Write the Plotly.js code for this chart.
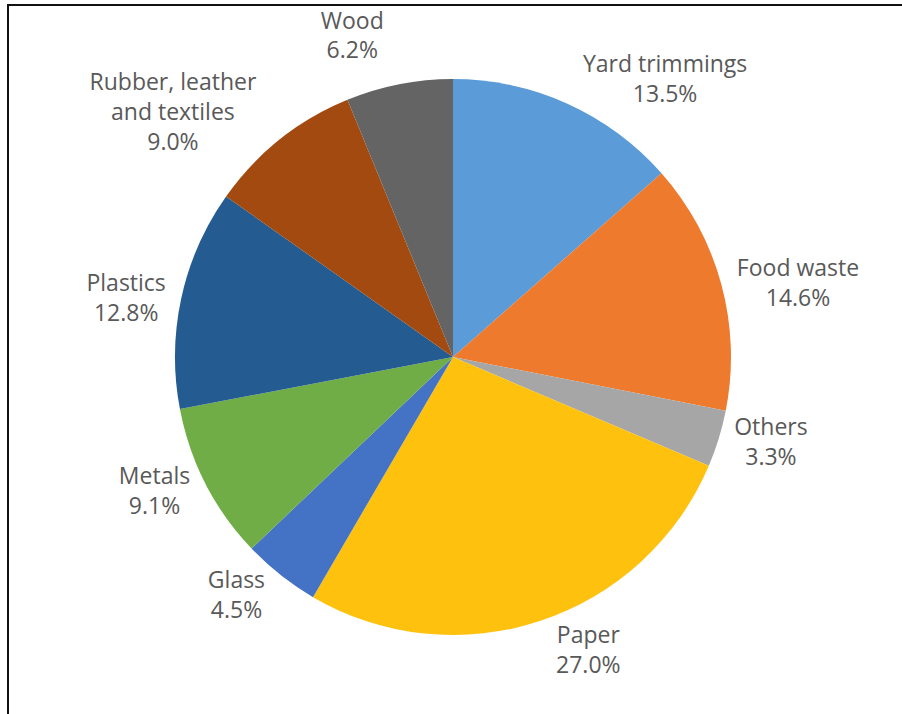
<!DOCTYPE html>
<html>
<head>
<meta charset="utf-8">
<script src="https://cdn.plot.ly/plotly-3.0.1.min.js"></script>
<style>
  html, body { margin: 0; padding: 0; background: #fff; }
  #frame { position: absolute; left: 7px; top: 4px; width: 910px; height: 720px;
           border-left: 2px solid #111; border-top: 2px solid #111; }
  #chart { position: absolute; left: 0; top: 0; width: 902px; height: 714px; }
  #chart path.textline { display: none; }
</style>
</head>
<body>
<div id="chart"></div>
<div id="frame"></div>
<script>
const categories = ["Yard trimmings", "Food waste", "Others", "Paper", "Glass", "Metals", "Plastics", "Rubber, leather<br>and textiles", "Wood"];
const shares = [13.5, 14.6, 3.3, 27.0, 4.5, 9.1, 12.8, 9.0, 6.2];
const colors = ["#5A9BD8", "#EE7A2E", "#A6A6A6", "#FDC10E", "#4472C4", "#70AD47", "#245C91", "#A24A10", "#646464"];

const trace = {
  type: "pie",
  labels: categories,
  values: shares,
  sort: false,
  direction: "clockwise",
  rotation: 0,
  marker: { colors: colors, line: { width: 0 } },
  textposition: "outside",
  texttemplate: "%{label}<br>%{percent:.1%}",
  textfont: { family: "'Open Sans', sans-serif", size: 23, color: "#595959" },
  hoverinfo: "label+percent",
  showlegend: false,
  automargin: false
};

const layout = {
  width: 902, height: 714,
  margin: { l: 175, r: 171, t: 79, b: 79 },
  paper_bgcolor: "#fff",
  showlegend: false
};

Plotly.newPlot("chart", [trace], layout, { displayModeBar: false, staticPlot: true });
</script>
</body>
</html>
